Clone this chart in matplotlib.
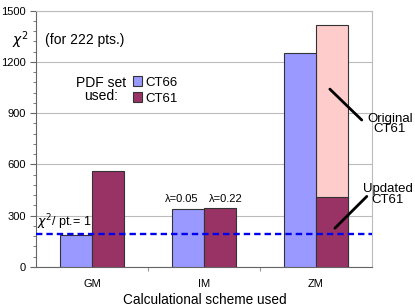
import numpy as np
import matplotlib.pyplot as plt
from matplotlib.ticker import MultipleLocator

plt.rcParams['font.family'] = ['Liberation Sans', 'DejaVu Sans']

# Data
schemes = ["GM", "IM", "ZM"]
ct66 = [190, 337, 1250]
ct61_updated = [560, 343, 412]
ct61_original_zm = 1416
chi2_per_pt_one = 192
lambda_labels = ["\u03bb=0.05", "\u03bb=0.22"]

blue = "#9999ff"
plum = "#993366"
pink = "#ffcccc"

fig = plt.figure(figsize=(4.15, 3.05), dpi=100)
ax = fig.add_axes([0.0867, 0.1246, 0.8093, 0.8404])

x = np.arange(len(schemes)) + 0.5
w = 0.286

# original CT61 (ZM only) drawn behind the updated one
ax.bar(x[2] + w / 2, ct61_original_zm, w, color=pink, edgecolor="#333333",
       linewidth=0.8, zorder=2)
ax.bar(x - w / 2, ct66, w, color=blue, edgecolor="#333333", linewidth=0.8,
       zorder=3, label="CT66")
ax.bar(x + w / 2, ct61_updated, w, color=plum, edgecolor="#333333",
       linewidth=0.8, zorder=3, label="CT61")

ax.axhline(chi2_per_pt_one, color="#0000ee", linestyle=(0, (2.7, 1.7)),
           linewidth=1.7, zorder=4)

ax.set_xlim(0, 3)
ax.set_ylim(0, 1500)
ax.yaxis.set_major_locator(MultipleLocator(300))
ax.yaxis.set_minor_locator(MultipleLocator(60))
ax.grid(axis="y", which="major", color="#bbbbbb", linewidth=0.8, zorder=0)
ax.set_xticks([1, 2])
ax.set_xticklabels([])
ax.set_xticks(x, minor=True)
ax.set_xticklabels(schemes, minor=True)
ax.tick_params(axis="x", which="minor", length=0, pad=9, labelsize=8)
ax.tick_params(axis="x", which="major", length=3, color="#999999")
ax.tick_params(axis="y", which="major", length=4, labelsize=8, color="#666666")
ax.tick_params(axis="y", which="minor", length=2, color="#666666")

for side in ["top", "right"]:
    ax.spines[side].set_color("#bbbbbb")
ax.spines["left"].set_color("#666666")
ax.spines["bottom"].set_color("#666666")

fig.text(0.494, 0.018, "Calculational scheme used", fontsize=9.8,
         ha="center", va="center")

# text labels
ax.text(-0.14, 1330, "$\\chi^2$", fontsize=10, ha="center", va="center")
ax.text(0.08, 1330, "(for 222 pts.)", fontsize=10, ha="left", va="center")
ax.text(0.58, 1041, "PDF set\nused:", fontsize=10, ha="center",
        va="center", linespacing=0.9)
ax.legend(loc="upper left", bbox_to_anchor=(0.289, 0.745), frameon=False,
          fontsize=9.5, handlelength=0.65, handleheight=0.8,
          handletextpad=0.25, labelspacing=0.25, borderpad=0,
          borderaxespad=0)
ax.text(0.01, 238, "$\\chi^2$/ pt.= 1", fontsize=9, ha="left",
        va="baseline")
ax.text(1.304, 378, lambda_labels[0], fontsize=8, ha="center",
        va="baseline")
ax.text(1.692, 378, lambda_labels[1], fontsize=8, ha="center",
        va="baseline")

# pointer lines for the ZM CT61 bar
ax.annotate("", xy=(2.625, 1041), xytext=(2.91, 860),
            annotation_clip=False,
            arrowprops=dict(arrowstyle="-", color="black", lw=2,
                            shrinkA=0, shrinkB=0))
ax.text(3.16, 836, "Original\nCT61", fontsize=9.5, ha="center",
        va="center", linespacing=0.85)
ax.annotate("", xy=(2.67, 227), xytext=(2.955, 413),
            annotation_clip=False,
            arrowprops=dict(arrowstyle="-", color="black", lw=2,
                            shrinkA=0, shrinkB=0))
ax.text(3.14, 425, "Updated\nCT61", fontsize=9.5, ha="center",
        va="center", linespacing=0.85)

fig.savefig("out.png", dpi=100)
